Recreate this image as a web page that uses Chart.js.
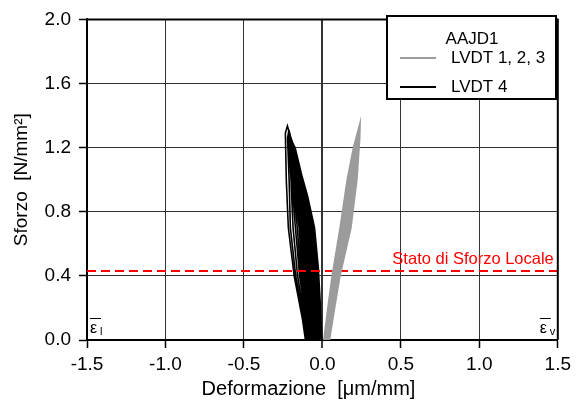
<!DOCTYPE html>
<html>
<head>
<meta charset="utf-8">
<script src="https://cdn.jsdelivr.net/npm/chart.js@4/dist/chart.umd.min.js"></script>
<style>
  html, body { margin: 0; padding: 0; background: #fff; }
</style>
</head>
<body>
<canvas id="sforzoChart" width="576" height="404"></canvas>
<script>
// AAJD1 - sforzo vs deformazione, one row per load cycle

// LVDT 1, 2, 3 (grey): load up the left side, unload down the right
const lvdt123X = [
  [0.011, 0.037, 0.064, 0.115, 0.160, 0.200, 0.238, 0.236, 0.218, 0.180, 0.110, 0.076, 0.043],
  [0.014, 0.040, 0.067, 0.119, 0.164, 0.202, 0.232, 0.231, 0.214, 0.176, 0.106, 0.073, 0.040],
  [0.012, 0.038, 0.065, 0.117, 0.162, 0.201, 0.235, 0.233, 0.211, 0.172, 0.103, 0.070, 0.038],
  [0.017, 0.043, 0.070, 0.123, 0.168, 0.205, 0.228, 0.226, 0.207, 0.168, 0.100, 0.068, 0.036],
  [0.015, 0.041, 0.068, 0.121, 0.166, 0.204, 0.230, 0.228, 0.204, 0.165, 0.097, 0.065, 0.034],
  [0.019, 0.046, 0.073, 0.126, 0.171, 0.207, 0.225, 0.222, 0.200, 0.161, 0.094, 0.062, 0.032],
  [0.016, 0.042, 0.069, 0.122, 0.167, 0.205, 0.231, 0.227, 0.197, 0.157, 0.091, 0.060, 0.030],
  [0.020, 0.047, 0.075, 0.128, 0.173, 0.209, 0.227, 0.222, 0.193, 0.153, 0.088, 0.057, 0.028],
  [0.018, 0.045, 0.072, 0.125, 0.170, 0.207, 0.229, 0.224, 0.190, 0.150, 0.085, 0.055, 0.026],
  [0.022, 0.049, 0.077, 0.130, 0.175, 0.210, 0.226, 0.220, 0.187, 0.146, 0.082, 0.052, 0.024],
  [0.020, 0.048, 0.076, 0.129, 0.174, 0.209, 0.228, 0.221, 0.184, 0.142, 0.078, 0.050, 0.022],
  [0.023, 0.051, 0.079, 0.132, 0.177, 0.211, 0.224, 0.218, 0.181, 0.139, 0.075, 0.047, 0.022],
];
const lvdt123Y = [
  [0, 0.20, 0.40, 0.70, 1.00, 1.20, 1.34, 1.26, 1.00, 0.70, 0.40, 0.20, 0],
  [0, 0.20, 0.40, 0.70, 1.00, 1.20, 1.31, 1.23, 1.00, 0.70, 0.40, 0.20, 0],
  [0, 0.20, 0.40, 0.70, 1.00, 1.20, 1.32, 1.24, 1.00, 0.70, 0.40, 0.20, 0],
  [0, 0.20, 0.40, 0.70, 1.00, 1.20, 1.27, 1.19, 1.00, 0.70, 0.40, 0.20, 0],
  [0, 0.20, 0.40, 0.70, 1.00, 1.20, 1.29, 1.21, 1.00, 0.70, 0.40, 0.20, 0],
  [0, 0.20, 0.40, 0.70, 1.00, 1.20, 1.25, 1.17, 1.00, 0.70, 0.40, 0.20, 0],
  [0, 0.20, 0.40, 0.70, 1.00, 1.20, 1.30, 1.22, 1.00, 0.70, 0.40, 0.20, 0],
  [0, 0.20, 0.40, 0.70, 1.00, 1.20, 1.28, 1.20, 1.00, 0.70, 0.40, 0.20, 0],
  [0, 0.20, 0.40, 0.70, 1.00, 1.20, 1.29, 1.21, 1.00, 0.70, 0.40, 0.20, 0],
  [0, 0.20, 0.40, 0.70, 1.00, 1.20, 1.26, 1.18, 1.00, 0.70, 0.40, 0.20, 0],
  [0, 0.20, 0.40, 0.70, 1.00, 1.20, 1.28, 1.20, 1.00, 0.70, 0.40, 0.20, 0],
  [0, 0.20, 0.40, 0.70, 1.00, 1.20, 1.24, 1.16, 1.00, 0.70, 0.40, 0.20, 0],
];

// LVDT 4 (black): load up the right side, unload down the left
const lvdt4X = [
  [-0.004, -0.012, -0.026, -0.050, -0.095, -0.138, -0.223, -0.236, -0.230, -0.217, -0.180, -0.127, -0.108],
  [-0.010, -0.018, -0.034, -0.060, -0.104, -0.146, -0.215, -0.222, -0.212, -0.204, -0.170, -0.120, -0.100],
  [-0.006, -0.014, -0.030, -0.056, -0.100, -0.142, -0.210, -0.214, -0.200, -0.187, -0.158, -0.112, -0.095],
  [-0.012, -0.021, -0.038, -0.066, -0.110, -0.150, -0.214, -0.212, -0.195, -0.172, -0.145, -0.105, -0.090],
  [-0.008, -0.016, -0.032, -0.058, -0.102, -0.144, -0.205, -0.206, -0.188, -0.160, -0.136, -0.100, -0.086],
  [-0.014, -0.024, -0.042, -0.070, -0.114, -0.154, -0.208, -0.204, -0.184, -0.148, -0.128, -0.097, -0.082],
  [-0.010, -0.019, -0.036, -0.063, -0.107, -0.148, -0.200, -0.200, -0.178, -0.142, -0.120, -0.092, -0.078],
  [-0.016, -0.026, -0.045, -0.074, -0.118, -0.157, -0.206, -0.198, -0.172, -0.136, -0.112, -0.086, -0.072],
  [-0.012, -0.022, -0.040, -0.068, -0.112, -0.152, -0.198, -0.194, -0.165, -0.128, -0.104, -0.080, -0.066],
  [-0.018, -0.029, -0.048, -0.078, -0.121, -0.160, -0.204, -0.192, -0.160, -0.122, -0.096, -0.074, -0.060],
  [-0.014, -0.025, -0.044, -0.072, -0.116, -0.155, -0.195, -0.188, -0.154, -0.115, -0.088, -0.068, -0.054],
  [-0.020, -0.031, -0.051, -0.081, -0.124, -0.162, -0.200, -0.186, -0.148, -0.108, -0.080, -0.060, -0.048],
  [-0.016, -0.027, -0.047, -0.076, -0.119, -0.158, -0.192, -0.182, -0.142, -0.100, -0.072, -0.052, -0.040],
  [-0.022, -0.033, -0.054, -0.084, -0.127, -0.165, -0.198, -0.180, -0.136, -0.094, -0.064, -0.045, -0.034],
  [-0.018, -0.029, -0.050, -0.079, -0.122, -0.160, -0.190, -0.176, -0.130, -0.086, -0.056, -0.038, -0.028],
  [-0.024, -0.036, -0.057, -0.087, -0.130, -0.167, -0.196, -0.174, -0.125, -0.080, -0.048, -0.030, -0.020],
];
const lvdt4Y = [
  [0, 0.20, 0.45, 0.70, 0.90, 1.05, 1.335, 1.29, 1.00, 0.70, 0.40, 0.13, 0],
  [0, 0.20, 0.45, 0.70, 0.90, 1.05, 1.30, 1.26, 1.00, 0.70, 0.40, 0.13, 0],
  [0, 0.20, 0.45, 0.70, 0.90, 1.05, 1.28, 1.24, 1.00, 0.70, 0.40, 0.13, 0],
  [0, 0.20, 0.45, 0.70, 0.90, 1.05, 1.31, 1.27, 1.00, 0.70, 0.40, 0.13, 0],
  [0, 0.20, 0.45, 0.70, 0.90, 1.05, 1.26, 1.22, 1.00, 0.70, 0.40, 0.13, 0],
  [0, 0.20, 0.45, 0.70, 0.90, 1.05, 1.29, 1.25, 1.00, 0.70, 0.40, 0.13, 0],
  [0, 0.20, 0.45, 0.70, 0.90, 1.05, 1.25, 1.21, 1.00, 0.70, 0.40, 0.13, 0],
  [0, 0.20, 0.45, 0.70, 0.90, 1.05, 1.28, 1.24, 1.00, 0.70, 0.40, 0.13, 0],
  [0, 0.20, 0.45, 0.70, 0.90, 1.05, 1.24, 1.20, 1.00, 0.70, 0.40, 0.13, 0],
  [0, 0.20, 0.45, 0.70, 0.90, 1.05, 1.27, 1.23, 1.00, 0.70, 0.40, 0.13, 0],
  [0, 0.20, 0.45, 0.70, 0.90, 1.05, 1.23, 1.19, 1.00, 0.70, 0.40, 0.13, 0],
  [0, 0.20, 0.45, 0.70, 0.90, 1.05, 1.26, 1.22, 1.00, 0.70, 0.40, 0.13, 0],
  [0, 0.20, 0.45, 0.70, 0.90, 1.05, 1.22, 1.18, 1.00, 0.70, 0.40, 0.13, 0],
  [0, 0.20, 0.45, 0.70, 0.90, 1.05, 1.25, 1.21, 1.00, 0.70, 0.40, 0.13, 0],
  [0, 0.20, 0.45, 0.70, 0.90, 1.05, 1.21, 1.17, 1.00, 0.70, 0.40, 0.13, 0],
  [0, 0.20, 0.45, 0.70, 0.90, 1.05, 1.24, 1.20, 1.00, 0.70, 0.40, 0.13, 0],
];

// stato di sforzo locale
const localX = [-1.5, 1.5];
const localY = [0.43, 0.43];

const FONT = 'Liberation Sans, Arial, sans-serif';

function toPoints(xs, ys) {
  const pts = [];
  xs.forEach((row, i) => row.forEach((x, j) => pts.push({ x, y: ys[i][j] })));
  return pts;
}

const frameAndNotes = {
  id: 'frameAndNotes',
  afterDatasetsDraw(chart) {
    const { ctx, chartArea: a, scales } = chart;
    ctx.save();

    // top and right frame
    ctx.strokeStyle = '#000';
    ctx.lineWidth = 2;
    ctx.beginPath();
    ctx.moveTo(a.left, a.top);
    ctx.lineTo(a.right, a.top);
    ctx.lineTo(a.right, a.bottom);
    ctx.stroke();

    // label over the red line
    const yLoc = scales.y.getPixelForValue(localY[0]);
    ctx.fillStyle = '#ff0000';
    ctx.font = '16.5px ' + FONT;
    ctx.textAlign = 'right';
    ctx.textBaseline = 'alphabetic';
    ctx.fillText('Stato di Sforzo Locale', a.right - 4, yLoc - 7);

    // epsilon marks in the bottom corners
    ctx.fillStyle = '#000';
    ctx.strokeStyle = '#000';
    ctx.lineWidth = 1;
    const marks = [['l', a.left + 3], ['v', a.right - 18]];
    marks.forEach(([sub, x]) => {
      ctx.textAlign = 'left';
      ctx.font = '16px ' + FONT;
      ctx.fillText('ε', x, a.bottom - 7);
      ctx.font = '11px ' + FONT;
      ctx.fillText(sub, x + 10, a.bottom - 5);
      ctx.beginPath();
      ctx.moveTo(x, a.bottom - 21.5);
      ctx.lineTo(x + 11, a.bottom - 21.5);
      ctx.stroke();
    });

    // legend box
    const bx = 387, by = 16, bw = 169, bh = 83;
    ctx.fillStyle = '#fff';
    ctx.fillRect(bx, by, bw, bh);
    ctx.strokeStyle = '#000';
    ctx.lineWidth = 2;
    ctx.strokeRect(bx, by, bw, bh);

    ctx.fillStyle = '#000';
    ctx.font = '17px ' + FONT;
    ctx.textAlign = 'center';
    ctx.textBaseline = 'middle';
    ctx.fillText('AAJD1', 472, 39);

    const items = chart.data.datasets.slice(0, 2);
    items.forEach((ds, i) => {
      const yy = 58 + i * 29;
      ctx.strokeStyle = ds.borderColor;
      ctx.lineWidth = 2;
      ctx.beginPath();
      ctx.moveTo(400, yy);
      ctx.lineTo(436, yy);
      ctx.stroke();
      ctx.fillStyle = '#000';
      ctx.textAlign = 'left';
      ctx.fillText(ds.label, 451, yy);
    });

    ctx.restore();
  }
};

const tickFont = { family: FONT, size: 19 };

new Chart(document.getElementById('sforzoChart').getContext('2d'), {
  type: 'scatter',
  data: {
    datasets: [
      {
        label: 'LVDT 1, 2, 3',
        data: toPoints(lvdt123X, lvdt123Y),
        showLine: true,
        borderColor: '#9b9b9b',
        borderWidth: 2.2,
        pointRadius: 0,
        order: 0,
      },
      {
        label: 'LVDT 4',
        data: toPoints(lvdt4X, lvdt4Y),
        showLine: true,
        borderColor: '#000000',
        borderWidth: 1.6,
        pointRadius: 0,
        order: 2,
      },
      {
        label: 'Stato di Sforzo Locale',
        data: toPoints([localX], [localY]),
        showLine: true,
        borderColor: '#ff0000',
        borderWidth: 2,
        borderDash: [9, 5],
        pointRadius: 0,
        order: 1,
      },
    ]
  },
  options: {
    responsive: false,
    animation: false,
    layout: { padding: { top: 12, right: 17, left: 0, bottom: 0 } },
    plugins: {
      legend: { display: false },
      tooltip: { enabled: false },
    },
    scales: {
      x: {
        type: 'linear',
        min: -1.5,
        max: 1.5,
        ticks: {
          stepSize: 0.5,
          color: '#000',
          font: tickFont,
          padding: 5,
          callback: v => v.toFixed(1),
        },
        grid: {
          color: '#333',
          lineWidth: c => (c.tick && c.tick.value === 0 ? 2 : 1),
          tickLength: 8,
          tickColor: '#000',
          tickWidth: 1.5,
        },
        border: { color: '#000', width: 2 },
        title: {
          display: true,
          // trailing spaces nudge the title left like the original
          text: 'Deformazione  [μm/mm]\u00a0\u00a0\u00a0\u00a0\u00a0',
          color: '#000',
          font: { family: FONT, size: 20 },
          padding: { top: 0, bottom: 3 },
        },
        afterFit(scale) { scale.height = 64; },
      },
      y: {
        type: 'linear',
        min: 0,
        max: 2,
        ticks: {
          stepSize: 0.4,
          color: '#000',
          font: tickFont,
          padding: 8,
          callback: v => v.toFixed(1),
        },
        grid: {
          color: '#333',
          lineWidth: 1,
          tickLength: 8,
          tickColor: '#000',
          tickWidth: 1.5,
        },
        border: { color: '#000', width: 2 },
        title: {
          display: true,
          text: 'Sforzo  [N/mm²]',
          color: '#000',
          font: { family: FONT, size: 19 },
          padding: { top: 10, bottom: 0 },
        },
        afterFit(scale) { scale.width = 87; },
      },
    },
  },
  plugins: [frameAndNotes],
});
</script>
</body>
</html>
